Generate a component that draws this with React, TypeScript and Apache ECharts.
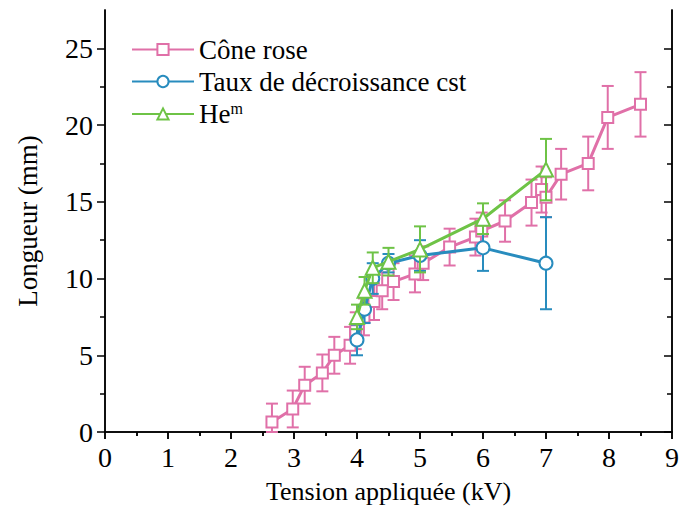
import React, { useEffect, useRef } from "react";
import * as echarts from "echarts";

const xTicks = [0, 1, 2, 3, 4, 5, 6, 7, 8, 9];
const yMajor = [0, 5, 10, 15, 20, 25];
const yMinor = [2.5, 7.5, 12.5, 17.5, 22.5];

const pinkX = [2.65, 2.98, 3.17, 3.45, 3.64, 3.89, 3.98, 4.11, 4.27, 4.4, 4.58, 4.92, 5.05, 5.47, 5.88, 5.98, 6.35, 6.77, 6.93, 7.0, 7.24, 7.67, 7.98, 8.5];
const pinkY = [0.65, 1.5, 3.05, 3.85, 5.0, 5.65, 6.6, 7.5, 8.5, 9.2, 9.8, 10.3, 11.0, 12.05, 12.7, 13.1, 13.75, 14.95, 15.8, 15.3, 16.8, 17.5, 20.5, 21.35];
const pinkErr = [1.2, 1.2, 1.2, 1.2, 1.2, 1.2, 1.2, 1.2, 1.2, 1.2, 1.2, 1.2, 1.1, 1.2, 1.2, 1.2, 1.35, 1.5, 1.5, 1.3, 1.65, 1.75, 2.05, 2.1];

const blueX = [4.0, 4.12, 4.25, 4.5, 5.0, 6.0, 7.0];
const blueY = [6.0, 8.0, 10.0, 11.0, 11.5, 12.0, 11.0];
const blueErr = [1.0, 0.9, 1.0, 0.6, 1.0, 1.5, 3.0];

const greenX = [4.0, 4.12, 4.25, 4.5, 5.0, 6.0, 7.0];
const greenY = [7.5, 9.2, 10.7, 11.1, 11.9, 13.9, 17.1];
const greenErr = [0.8, 0.9, 1.0, 0.9, 1.5, 1.0, 2.0];

const PINK = "#e070a8";
const BLUE = "#288cbe";
const GREEN = "#6ec346";
const FONT = "Liberation Serif";

function pts(xs: number[], ys: number[]) {
  return xs.map((x, i) => [x, ys[i]]);
}
function errs(xs: number[], ys: number[], es: number[]) {
  return xs.map((x, i) => [x, Math.max(0, ys[i] - es[i]), ys[i] + es[i]]);
}

function errorSeries(data: number[][], color: string, z: number) {
  return {
    type: "custom",
    xAxisIndex: 0,
    yAxisIndex: 0,
    z,
    silent: true,
    data,
    encode: { x: 0, y: [1, 2] },
    renderItem: (params: any, api: any) => {
      const x = api.value(0);
      const lo = api.coord([x, api.value(1)]);
      const hi = api.coord([x, api.value(2)]);
      const w = 6;
      const st = { stroke: color, lineWidth: 2 };
      return {
        type: "group",
        children: [
          { type: "line", shape: { x1: lo[0], y1: lo[1], x2: hi[0], y2: hi[1] }, style: st },
          { type: "line", shape: { x1: lo[0] - w, y1: lo[1], x2: lo[0] + w, y2: lo[1] }, style: st },
          { type: "line", shape: { x1: hi[0] - w, y1: hi[1], x2: hi[0] + w, y2: hi[1] }, style: st },
        ],
      };
    },
  };
}

function lineSeries(name: string, data: number[][], color: string, symbol: string, size: number, z: number) {
  return {
    name,
    type: "line",
    xAxisIndex: 0,
    yAxisIndex: 0,
    z,
    data,
    symbol,
    symbolSize: size,
    showAllSymbol: true,
    lineStyle: { color, width: 3 },
    itemStyle: { color: "#ffffff", borderColor: color, borderWidth: 2 },
    emphasis: { disabled: true },
  };
}

const axisLine = { show: true, lineStyle: { color: "#000", width: 1.5 } };

export default function App() {
  const ref = useRef<HTMLDivElement>(null);
  useEffect(() => {
    if (!ref.current) return;
    const chart = echarts.init(ref.current, null, { renderer: "svg" });
    const yBase = { type: "value", min: 0, max: 27.5, interval: 5, splitLine: { show: false }, axisLine };
    chart.setOption({
      animation: false,
      backgroundColor: "#fff",
      grid: { left: 105, right: 5, top: 10, bottom: 80 },
      legend: {
        left: 126,
        top: 31,
        orient: "vertical",
        itemWidth: 62,
        itemHeight: 14,
        itemGap: 5,
        data: ["Cône rose", "Taux de décroissance cst", "Hem"],
        formatter: (name: string) => (name === "Hem" ? "{n|He}{s|m}" : "{n|" + name + "}"),
        textStyle: {
          rich: {
            n: { fontFamily: FONT, fontSize: 27, color: "#000" },
            s: { fontFamily: FONT, fontSize: 16, color: "#000", verticalAlign: "top", padding: [0, 0, 12, 0] },
          },
        },
      },
      xAxis: [
        {
          type: "value",
          position: "bottom",
          min: 0,
          max: 9,
          interval: 1,
          splitLine: { show: false },
          axisLine,
          axisTick: { show: true, length: 7, inside: false, lineStyle: { color: "#000", width: 1.5 } },
          minorTick: { show: true, splitNumber: 2, length: 4, lineStyle: { color: "#000", width: 1.5 } },
          axisLabel: { fontFamily: FONT, fontSize: 28, color: "#000", margin: 11 },
          name: "Tension appliquée (kV)",
          nameLocation: "middle",
          nameGap: 46,
          nameTextStyle: { fontFamily: FONT, fontSize: 26, color: "#000" },
        },
        {
          type: "value",
          position: "top",
          min: 0,
          max: 9,
          interval: 1,
          splitLine: { show: false },
          axisLine,
          axisTick: { show: true, length: 7, inside: true, lineStyle: { color: "#000", width: 1.5 } },
          minorTick: { show: true, splitNumber: 2, length: 4, lineStyle: { color: "#000", width: 1.5 } },
          axisLabel: { show: false },
        },
      ],
      yAxis: [
        {
          ...yBase,
          position: "left",
          axisTick: { show: true, length: 8, inside: false, customValues: yMajor, lineStyle: { color: "#000", width: 1.5 } },
          axisLabel: { fontFamily: FONT, fontSize: 28, color: "#000", margin: 12, customValues: yMajor },
          name: "Longueur (mm)",
          nameLocation: "middle",
          nameGap: 64,
          nameTextStyle: { fontFamily: FONT, fontSize: 27, color: "#000" },
        },
        {
          ...yBase,
          position: "left",
          axisTick: { show: true, length: 5, inside: false, customValues: yMinor, lineStyle: { color: "#000", width: 1.5 } },
          axisLabel: { show: false },
        },
        {
          ...yBase,
          position: "right",
          axisTick: { show: true, length: 8, inside: true, customValues: yMajor, lineStyle: { color: "#000", width: 1.5 } },
          axisLabel: { show: false },
        },
        {
          ...yBase,
          position: "right",
          axisTick: { show: true, length: 5, inside: true, customValues: yMinor, lineStyle: { color: "#000", width: 1.5 } },
          axisLabel: { show: false },
        },
      ],
      series: [
        errorSeries(errs(pinkX, pinkY, pinkErr), PINK, 1),
        lineSeries("Cône rose", pts(pinkX, pinkY), PINK, "rect", 11, 2),
        errorSeries(errs(blueX, blueY, blueErr), BLUE, 3),
        lineSeries("Taux de décroissance cst", pts(blueX, blueY), BLUE, "circle", 13, 4),
        errorSeries(errs(greenX, greenY, greenErr), GREEN, 5),
        lineSeries("Hem", pts(greenX, greenY), GREEN, "triangle", 14, 6),
      ],
    });
    return () => chart.dispose();
  }, []);
  return <div ref={ref} style={{ width: 682, height: 512, position: "absolute", left: 0, top: 0 }} />;
}
